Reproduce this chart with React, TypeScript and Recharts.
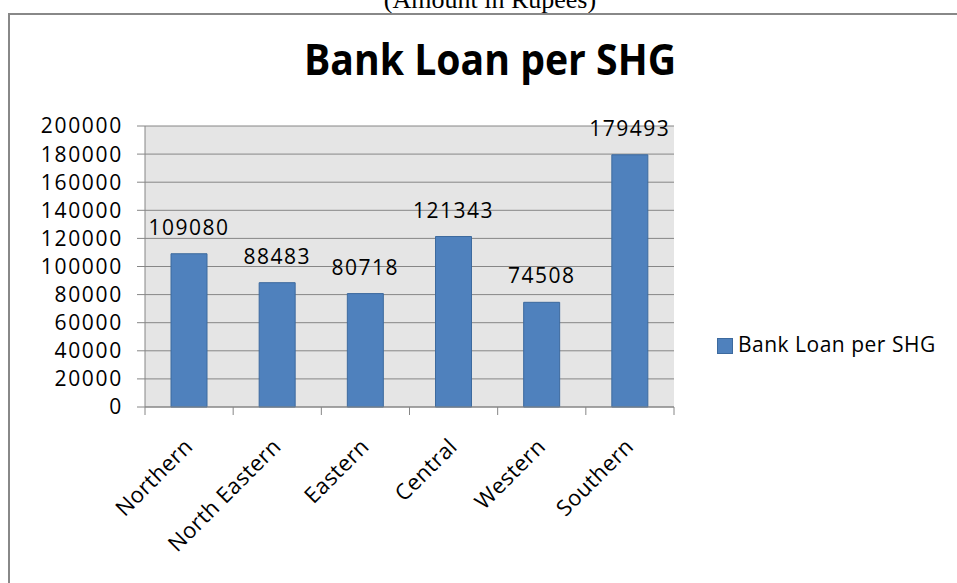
import React from "react";
import { BarChart, Bar, XAxis, YAxis, CartesianGrid, LabelList } from "recharts";

// Excel-style "Bank Loan per SHG" column chart, amounts in rupees
const regions = ["Northern", "North Eastern", "Eastern", "Central", "Western", "Southern"];
const loanPerShg = [109080, 88483, 80718, 121343, 74508, 179493];
const yTicks = [0, 20000, 40000, 60000, 80000, 100000, 120000, 140000, 160000, 180000, 200000];
const seriesName = "Bank Loan per SHG";

const data = regions.map((region, i) => ({ region, loan: loanPerShg[i] }));

const W = 957;
const H = 583;
const PLOT_LEFT = 145;
const PLOT_RIGHT = 674;
const PLOT_TOP = 126;
const PLOT_BOTTOM = 407;
const X_AXIS_H = 100;
const BAND = (PLOT_RIGHT - PLOT_LEFT) / regions.length;

const GREY = "#868686";
const BAR_FILL = "#4f81bd";
const BAR_EDGE = "#3d6a9e";
const FONT = '"Open Sans", sans-serif';

function RegionTick(props: any) {
  const { x, payload, index } = props;
  const left = x - BAND / 2;
  const ax = x + 5;
  const ay = PLOT_BOTTOM + 41;
  return (
    <g>
      <line x1={left} x2={left} y1={PLOT_BOTTOM} y2={PLOT_BOTTOM + 8} stroke={GREY} />
      {index === regions.length - 1 && (
        <line
          x1={x + BAND / 2}
          x2={x + BAND / 2}
          y1={PLOT_BOTTOM}
          y2={PLOT_BOTTOM + 8}
          stroke={GREY}
        />
      )}
      <text
        x={ax}
        y={ay}
        textAnchor="end"
        transform={`rotate(-45 ${ax} ${ay})`}
        fontSize={22}
        letterSpacing={0.4}
        fontFamily={FONT}
        fill="#000"
      >
        {payload.value}
      </text>
    </g>
  );
}

export default function App() {
  return (
    <div
      style={{
        position: "absolute",
        left: 0,
        top: 0,
        width: W,
        height: H,
        overflow: "hidden",
        background: "#fff",
      }}
    >
      <svg width={W} height={H} style={{ position: "absolute", left: 0, top: 0 }}>
        <text
          x={490}
          y={8}
          textAnchor="middle"
          fontFamily='"Liberation Serif", serif'
          fontSize={26}
          fill="#000"
        >
          (Amount in Rupees)
        </text>
        <rect x={9} y={14} width={2000} height={2000} fill="none" stroke="#888" strokeWidth={2} />
        <text
          x={490}
          y={75}
          textAnchor="middle"
          fontFamily={FONT}
          fontWeight="bold"
          fontSize={43}
          textLength={372}
          lengthAdjust="spacingAndGlyphs"
          fill="#000"
        >
          {seriesName}
        </text>
        {/* legend */}
        <rect x={717.5} y={338.5} width={15} height={15} fill={BAR_FILL} stroke={BAR_EDGE} />
        <text x={738} y={352} fontFamily={FONT} fontSize={21} letterSpacing={0.5} fill="#000">
          {seriesName}
        </text>
      </svg>

      <div style={{ position: "absolute", left: 0, top: 0 }}>
        <BarChart
          width={W}
          height={H}
          data={data}
          margin={{
            top: PLOT_TOP,
            right: W - PLOT_RIGHT,
            bottom: H - PLOT_BOTTOM - X_AXIS_H,
            left: 0,
          }}
        >
          <CartesianGrid vertical={false} stroke={GREY} fill="#e5e5e5" fillOpacity={1} />
          <XAxis
            dataKey="region"
            height={X_AXIS_H}
            interval={0}
            tickLine={false}
            tickSize={0}
            tickMargin={0}
            axisLine={{ stroke: GREY }}
            tick={<RegionTick />}
          />
          <YAxis
            width={PLOT_LEFT}
            domain={[0, 200000]}
            ticks={yTicks}
            interval={0}
            tickSize={8}
            tickMargin={14}
            tickLine={{ stroke: GREY }}
            axisLine={{ stroke: GREY }}
            tick={{ fontSize: 21, fill: "#000", fontFamily: FONT, letterSpacing: 1.7 }}
          />
          <Bar
            dataKey="loan"
            name={seriesName}
            fill={BAR_FILL}
            stroke={BAR_EDGE}
            strokeWidth={1}
            barSize={36}
            isAnimationActive={false}
          >
            <LabelList
              dataKey="loan"
              position="top"
              offset={19}
              fill="#000"
              fontSize={21}
              fontFamily={FONT}
              letterSpacing={1.5}
            />
          </Bar>
        </BarChart>
      </div>
    </div>
  );
}
